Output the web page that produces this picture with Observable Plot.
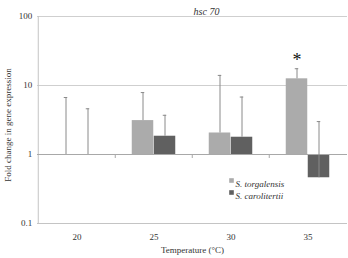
<!DOCTYPE html>
<html>
<head>
<meta charset="utf-8">
<script src="https://cdn.jsdelivr.net/npm/d3@7"></script>
<script src="https://cdn.jsdelivr.net/npm/@observablehq/plot@0.6"></script>
<style>
  html, body { margin: 0; padding: 0; background: #fff; }
  #chart { width: 348px; height: 258px; }
</style>
</head>
<body>
<div id="chart"></div>
<script>
// hsc 70 expression relative to control, by temperature and species
const temperatures = ["20", "25", "30", "35"];
const species = ["S. torgalensis", "S. carolitertii"];
const torgalensisMean = [1.0, 3.1, 2.05, 12.5];
const torgalensisUpper = [6.7, 7.9, 14.0, 17.5];
const carolitertiiMean = [1.0, 1.84, 1.78, 0.46];
const carolitertiiUpper = [4.6, 3.7, 6.8, 3.0];
const significant = [false, false, false, true];
const yTicks = [0.1, 1, 10, 100];

const colors = {"S. torgalensis": "#ababab", "S. carolitertii": "#606060"};

const rows = [];
temperatures.forEach((t, i) => {
  rows.push({temp: t, species: species[0], mean: torgalensisMean[i], upper: torgalensisUpper[i], sig: significant[i]});
  rows.push({temp: t, species: species[1], mean: carolitertiiMean[i], upper: carolitertiiUpper[i], sig: false});
});

const W = 348, H = 258;
const margin = {top: 16, right: 1, bottom: 35, left: 37};
const step = (W - margin.left - margin.right) / temperatures.length;
const barW = 22;

const first = rows.filter(d => d.species === species[0]);
const second = rows.filter(d => d.species === species[1]);

const serif = "'Liberation Serif', 'DejaVu Serif', serif";

const plot = Plot.plot({
  width: W,
  height: H,
  marginTop: margin.top,
  marginRight: margin.right,
  marginBottom: margin.bottom,
  marginLeft: margin.left,
  style: {fontFamily: serif, fontSize: "9px", color: "#333", background: "#fff"},
  x: {domain: temperatures, padding: 0, label: null, axis: null},
  y: {type: "log", domain: [0.1, 100], label: null, axis: null},
  marks: [
    // horizontal gridlines and frame lines
    Plot.ruleY([10, 100], {stroke: "#cfcfcf", strokeWidth: 1}),
    Plot.ruleY([0.1], {stroke: "#c4c4c4", strokeWidth: 1}),
    Plot.ruleX([0], {x: () => temperatures[0], dx: -step / 2, stroke: "#c4c4c4", y1: 0.1, y2: 100}),
    // bars from the baseline at 1
    Plot.barY(first, {x: "temp", y1: 1, y2: "mean", fill: colors[species[0]], insetLeft: step / 2 - barW, insetRight: step / 2}),
    Plot.barY(second, {x: "temp", y1: 1, y2: "mean", fill: colors[species[1]], insetLeft: step / 2, insetRight: step / 2 - barW}),
    // baseline and category separators
    Plot.ruleY([1], {stroke: "#a8a8a8", strokeWidth: 1}),
    Plot.ruleX(temperatures.slice(1), {x: d => d, y1: 1, y2: 1, insetBottom: -4, dx: -step / 2, stroke: "#a8a8a8"}),
    // error bars
    Plot.ruleX(first, {x: "temp", y1: "mean", y2: "upper", dx: -barW / 2, stroke: "#8a8a8a", strokeWidth: 1}),
    Plot.ruleX(second, {x: "temp", y1: "mean", y2: "upper", dx: barW / 2, stroke: "#8a8a8a", strokeWidth: 1}),
    Plot.tickY(first, {x: "temp", y: "upper", dx: -barW / 2, insetLeft: step / 2 - 2, insetRight: step / 2 - 2, stroke: "#8a8a8a"}),
    Plot.tickY(second, {x: "temp", y: "upper", dx: barW / 2, insetLeft: step / 2 - 2, insetRight: step / 2 - 2, stroke: "#8a8a8a"}),
    // significance marker
    Plot.text(first.filter(d => d.sig), {x: "temp", y: "upper", text: () => "*", dx: -barW / 2, dy: -8, fontSize: 18, fill: "#111"}),
    // y tick labels
    Plot.text(yTicks, {x: () => temperatures[0], y: d => d, text: d => String(d), dx: -step / 2 - 6, textAnchor: "end", fill: "#333", fontSize: 9}),
    // x tick labels
    Plot.text(temperatures, {x: d => d, y: 0.1, text: d => d, dy: 14, fill: "#333", fontSize: 9}),
    // axis titles
    Plot.text(["Temperature (\u00b0C)"], {frameAnchor: "bottom", dy: 29, dx: 0, fill: "#333", fontSize: 9}),
    Plot.text(["Fold change in gene expression"], {frameAnchor: "left", dx: -29, dy: 5, rotate: -90, textAnchor: "middle", fill: "#333", fontSize: 9}),
    // title
    Plot.text(["hsc 70"], {frameAnchor: "top", dy: -9, dx: 14, fontStyle: "italic", fill: "#333", fontSize: 10}),
    // legend
    Plot.dot([species[0]], {frameAnchor: "top-left", dx: 194, dy: 164, symbol: "square", r: 2.6, fill: colors[species[0]]}),
    Plot.text([species[0]], {frameAnchor: "top-left", dx: 198, dy: 164, textAnchor: "start", fontStyle: "italic", fill: "#333", fontSize: 9}),
    Plot.dot([species[1]], {frameAnchor: "top-left", dx: 194, dy: 176, symbol: "square", r: 2.6, fill: colors[species[1]]}),
    Plot.text([species[1]], {frameAnchor: "top-left", dx: 198, dy: 176, textAnchor: "start", fontStyle: "italic", fill: "#333", fontSize: 9})
  ]
});

document.getElementById("chart").appendChild(plot);
</script>
</body>
</html>
